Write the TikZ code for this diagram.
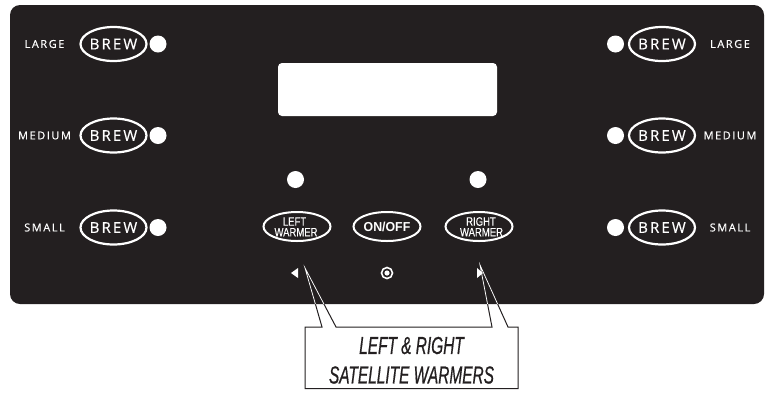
\documentclass[tikz,border=0pt]{standalone}
\usepackage{fontspec}
\usepackage{graphicx}
\setmainfont{Liberation Sans}
\newfontfamily\lblfam[LetterSpace=14, FakeBold=0.4]{Open Sans}
\newfontfamily\brewfam[LetterSpace=14, FakeBold=0.4]{Open Sans}
\newfontfamily\callfam[FakeBold=0.8]{Liberation Sans}
\newfontfamily\warmfam[FakeBold=0.3]{Liberation Sans}
\usetikzlibrary{shapes.geometric}
\definecolor{panel}{HTML}{231F20}
\newcommand\lblfont{\lblfam\fontsize{11}{11}\selectfont}
\newcommand\brewfont{\brewfam\fontsize{15}{15}\selectfont}
\tikzset{
  btn/.style={draw=white, line width=2.2pt, ellipse, minimum width=66pt, minimum height=34pt, inner sep=0pt},
  wbtn/.style={draw=white, line width=2pt, ellipse, minimum width=67pt, minimum height=29pt, inner sep=0pt},
  led/.style={circle, fill=white, minimum size=17pt, inner sep=0pt},
  lbl/.style={text=white, font=\lblfont, inner sep=0pt},
  brew/.style={text=white, font=\brewfont, inner sep=0pt},
  wtxt/.style={text=white, font=\warmfam\fontsize{12.2}{12.2}\selectfont, inner sep=0pt},
  calltxt/.style={text=panel, font=\callfam\fontsize{24.5}{26}\selectfont\itshape, inner sep=0pt},
}
\begin{document}
\begin{tikzpicture}[x=1pt,y=-1pt]
\useasboundingbox (0,0) rectangle (770,392);
% callout
\coordinate (lt) at (305,268);
\coordinate (rt) at (480,265);
\coordinate (la) at (322,327);
\coordinate (lb) at (336,327);
\coordinate (ra) at (492,327);
\coordinate (rb) at (508,327);
\filldraw[fill=white, draw=panel, line width=1pt]
  (305,327) -- (la) -- (lt) -- (lb) -- (ra) -- (rt) -- (rb) -- (518,327) -- (518,388.5) -- (305,388.5) -- cycle;
\node[calltxt] (c1) at (411.5,345.5) {\scalebox{0.63}[1]{LEFT \& RIGHT}};
\node[calltxt] (c2) at (411.5,375) {\scalebox{0.63}[1]{SATELLITE WARMERS}};
% panel
\fill[panel, rounded corners=10pt] (10,5) rectangle (764,304);
\begin{scope}
  \clip[rounded corners=10pt] (10,5) rectangle (764,304);
  \draw[white, line width=0.75pt] (la) -- (lt) -- (lb);
  \draw[white, line width=0.75pt] (ra) -- (rt) -- (rb);
\end{scope}
% display
\fill[white, rounded corners=4pt] (278,63) rectangle (497,116);
% left column
\foreach \y/\t/\n in {44/LARGE/a,135.5/MEDIUM/b,227.5/SMALL/c}{
  \node[lbl] (L\n) at (44.5,\y) {\t};
  \node[btn] (LB\n) at (113.5,\y) {};
  \node[brew] at (LB\n) {BREW};
  \node[led] (LD\n) at (158,\y) {};
}
% right column
\foreach \y/\t/\n in {44/LARGE/a,135.5/MEDIUM/b,227.5/SMALL/c}{
  \node[led] (RD\n) at (615.5,\y) {};
  \node[btn] (RB\n) at (662,\y) {};
  \node[brew] at (RB\n) {BREW};
  \node[lbl] (R\n) at (730,\y) {\t};
}
% center
\node[led] (ld) at (295.5,179.5) {};
\node[led] (rd) at (478,179.5) {};
\node[wbtn] (lw) at (297,226.5) {};
\node[wtxt, anchor=base] (lw1) at (294.5,225.7) {\scalebox{0.78}[1]{LEFT}};
\node[wtxt, anchor=base] (lw2) at (296,236.4) {\scalebox{0.78}[1]{WARMER}};
\node[wbtn] (onoff) at (387,226.5) {};
\node[text=white, font=\fontsize{13}{13}\selectfont\bfseries, inner sep=0pt] at (onoff) {\scalebox{0.95}[1]{ON/OFF}};
\node[wbtn] (rw) at (479,226.5) {};
\node[wtxt, anchor=base] (rw1) at (481,225.7) {\scalebox{0.78}[1]{RIGHT}};
\node[wtxt, anchor=base] (rw2) at (481.5,236.4) {\scalebox{0.78}[1]{WARMER}};
% indicators
\fill[white] (291,273) -- (298,268) -- (298,278) -- cycle;
\fill[white] (483,273) -- (477,268) -- (477,278) -- cycle;
\node[circle, draw=white, line width=1.6pt, minimum size=11pt, inner sep=0pt] (tgt) at (387,273) {};
\fill[white] (tgt) circle (2.6pt);
\end{tikzpicture}
\end{document}
